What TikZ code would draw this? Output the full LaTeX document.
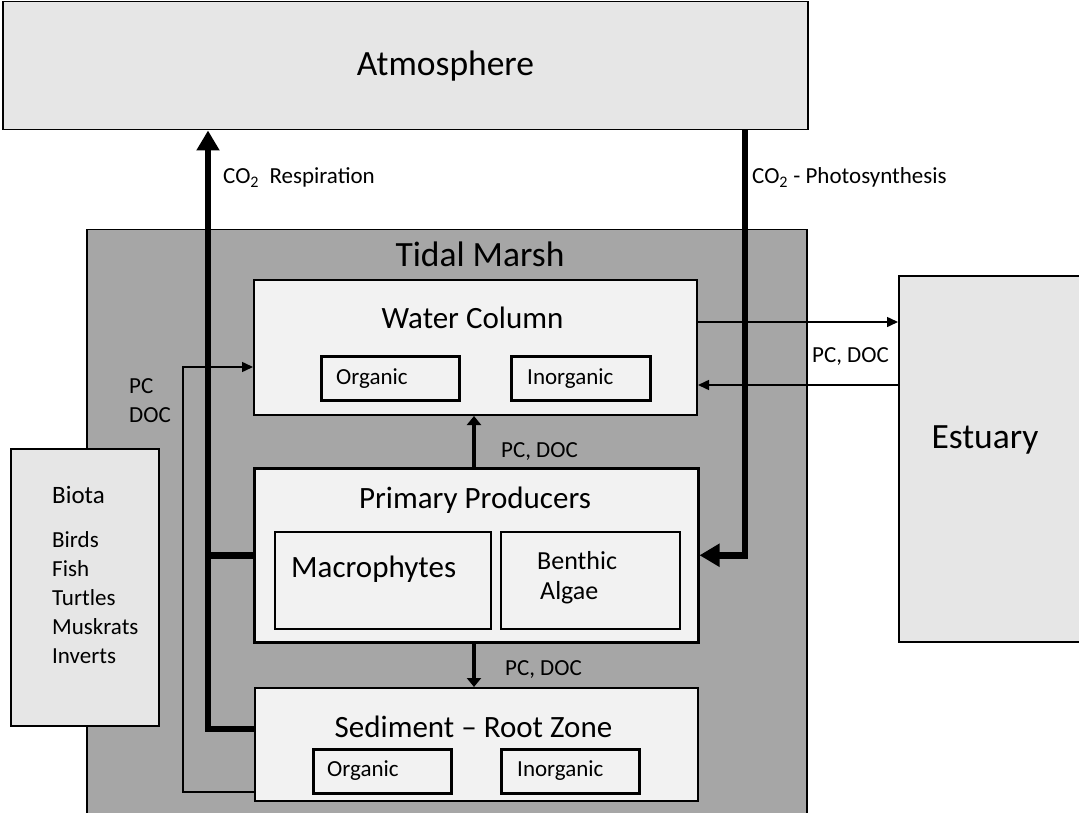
\documentclass[tikz,border=0pt]{standalone}
\usepackage{fontspec}
\setmainfont{Carlito}
\usetikzlibrary{arrows.meta, positioning}
\definecolor{skygray}{HTML}{E6E6E6}
\definecolor{marshgray}{HTML}{A6A6A6}
\definecolor{boxgray}{HTML}{F2F2F2}

\begin{document}
\begin{tikzpicture}[x=1pt, y=-1pt,
  outer/.style={draw, line width=1.5pt, fill=skygray, inner sep=0pt, anchor=north west},
  inner/.style={draw, line width=2pt, fill=boxgray, inner sep=0pt, anchor=north west},
  lbl/.style={anchor=base west, inner sep=0pt, font=\fontsize{23}{29}\selectfont},
  title/.style={anchor=base, inner sep=0pt, font=\fontsize{31}{37}\selectfont},
  big/.style={anchor=base, inner sep=0pt, font=\fontsize{35.5}{42}\selectfont},
  bigflow/.style={line width=6.5pt, -{Triangle[width=22pt,length=20pt]}},
  midflow/.style={line width=4pt, -{Triangle[width=14pt,length=9pt]}},
  flow/.style={line width=1.5pt, -{Triangle[width=10pt,length=11pt]}}]
  \useasboundingbox (0,0) rectangle (1079,813);

  % Outer boxes
  \node[outer, minimum width=805, minimum height=128] (atmo) at (2,1) {};
  \node[big] (atmotxt) at (445.5,76) {Atmosphere};
  \node[outer, fill=marshgray, minimum width=720, minimum height=600] (marsh) at (86,229) {};
  \node[big] (marshtxt) at (480,266) {Tidal Marsh};
  \node[outer, minimum width=190, minimum height=366] (estuary) at (898,275) {};
  \node[big] (estuarytxt) at (985,448) {Estuary};
  \node[outer, minimum width=148, minimum height=277] (biota) at (10,448) {};
  \node[lbl, font=\fontsize{25}{30}\selectfont] (biotatxt) at (52,503) {Biota};
  % multi-line nodes sit on their last line
  \node[lbl, align=left] (biotalist) at (52,663) {Birds\\Fish\\Turtles\\Muskrats\\Inverts};

  % Water column
  \node[inner, minimum width=443, minimum height=135] (water) at (253,279) {};
  \node[title] (watertxt) at (472.5,328) {Water Column};
  \node[inner, line width=2.5pt, minimum width=138, minimum height=44] (wcorg) at (320,355) {};
  \node[lbl] (wcorgtxt) at (336,384) {Organic};
  \node[inner, line width=2.5pt, minimum width=139, minimum height=44] (wcinorg) at (510,355) {};
  \node[lbl] (wcinorgtxt) at (527,384) {Inorganic};

  % Primary producers
  \node[inner, line width=2.5pt, minimum width=444, minimum height=174] (prod) at (253,467) {};
  \node[title] (prodtxt) at (475,508) {Primary Producers};
  \node[inner, line width=1.5pt, minimum width=216, minimum height=97] (macro) at (274,531) {};
  \node[lbl, font=\fontsize{31}{37}\selectfont] (macrotxt) at (291,577) {Macrophytes};
  \node[inner, line width=1.5pt, minimum width=179, minimum height=97] (algae) at (500,531) {};
  \node[lbl, font=\fontsize{26}{30}\selectfont] (benthictxt) at (537,569) {Benthic};
  \node[lbl, font=\fontsize{26}{30}\selectfont] (algaetxt) at (540,599) {Algae};

  % Sediment
  \node[inner, minimum width=443, minimum height=113] (sed) at (254,687) {};
  \node[title] (sedtxt) at (473.5,737) {Sediment -- Root Zone};
  \node[inner, line width=2.5pt, minimum width=138, minimum height=44] (sdorg) at (312,748) {};
  \node[lbl] (sdorgtxt) at (327,776) {Organic};
  \node[inner, line width=2.5pt, minimum width=138, minimum height=44] (sdinorg) at (500,748) {};
  \node[lbl] (sdinorgtxt) at (517,776) {Inorganic};

  % Carbon fluxes
  \coordinate (resp) at (208,729);
  \coordinate (photo) at (745,0);
  \coordinate (loop) at (183,0);
  \coordinate (wcin) at ([yshift=-19.5pt]water.west);
  \draw[bigflow] (sed.west |- resp) -- (resp) -- (atmo.south -| resp);
  \draw[line width=6.5pt] (prod.west) -- (prod.west -| resp);
  \draw[bigflow] (atmo.south -| photo) |- (prod.east);
  \draw[flow] ([yshift=-47.5pt]sed.west) -| (wcin -| loop) -- (wcin);
  \draw[flow] ([yshift=25.5pt]water.east) -- ([yshift=25.5pt]water.east -| estuary.west);
  \draw[flow] ([yshift=-37.5pt]water.east -| estuary.west) -- ([yshift=-37.5pt]water.east);
  \draw[midflow] (prod.north -| 474,0) -- (water.south -| 474,0);
  \draw[midflow] (prod.south -| 474,0) -- (sed.north -| 474,0);

  \node[lbl] (resplbl) at (223,184) {CO\textsubscript{2}~ Respiration};
  \node[lbl] (photolbl) at (752,184) {CO\textsubscript{2} - Photosynthesis};
  \node[lbl, align=left] (looplbl) at (129,422) {PC\\DOC};
  \node[lbl] (estlbl) at (812,362) {PC, DOC};
  \node[lbl] (uplbl) at (501,457) {PC, DOC};
  \node[lbl] (downlbl) at (505,675) {PC, DOC};
\end{tikzpicture}
\end{document}
